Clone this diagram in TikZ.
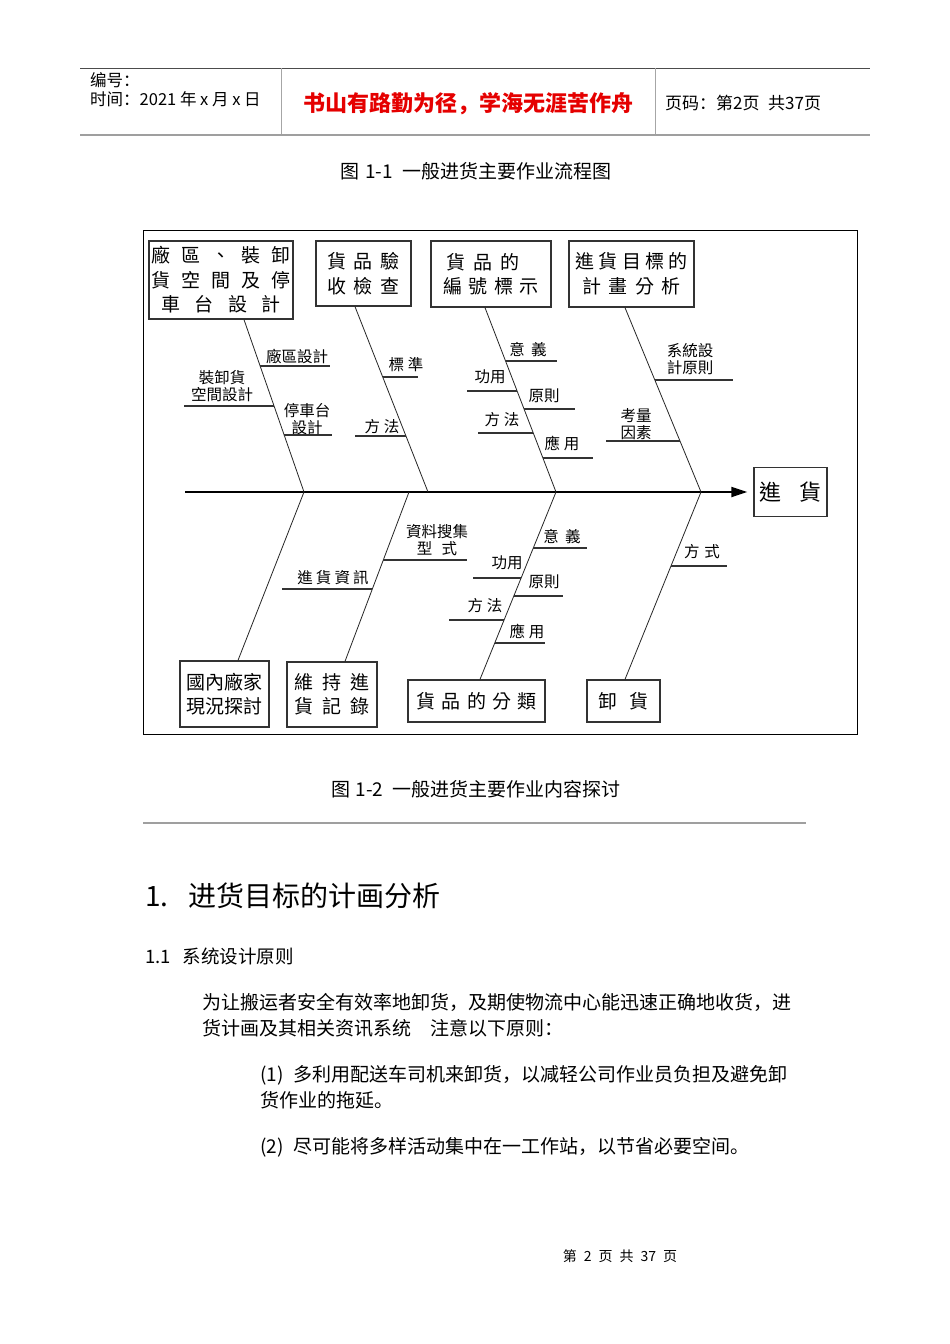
\documentclass[tikz,border=0pt]{standalone}
\usepackage{fontspec}
\setmainfont{Noto Sans CJK SC}
\newfontfamily\tcfont{Noto Sans CJK TC}
\usetikzlibrary{arrows.meta}
\newcommand\gp[1][.4em]{\hspace{#1}}
\newcommand\fs[2]{\fontsize{#1}{#2}\selectfont}

\begin{document}
\begin{tikzpicture}[
        x=1pt, y=-1pt,
        % 页眉文字
        headtext/.style={inner sep=0pt, anchor=west, font=\fs{16.5}{20}},
        % 图题
        caption/.style={inner sep=0pt, font=\fs{19}{22}},
        % 正文
        body/.style={inner sep=0pt, anchor=west, font=\fs{19}{24}},
        % 鱼骨框
        cause/.style={
            rectangle, draw=black!80, line width=1.3pt, inner sep=0pt,
            align=center, font=\tcfont\fs{19}{24.5}
        },
        % 小骨标签
        cue/.style={inner sep=0pt, align=center, font=\tcfont\fs{15.5}{17}},
        % 骨线
        bone/.style={line width=.8pt, draw=black!85},
        twig/.style={line width=1.3pt, draw=black!80},
        spine/.style={line width=2pt, -{Triangle[length=16pt,width=10pt]}, shorten >=6pt}
    ]
        \fill[white] (0,0) rectangle (950,1344);
        \useasboundingbox (0,0) rectangle (950,1344);

        % 页眉
        \draw[black!70, line width=.8pt] (80,68) -- (870,68);
        \draw[gray!75, line width=2.5pt] (80,135) -- (870,135);
        \draw[gray!70, line width=.8pt] (281,68) -- (281,134) (655,68) -- (655,134);
        \node[headtext] (hno) at (90,80) {编号：};
        \node[headtext] (hdate) at (90,99) {时间：2021 年 x 月 x 日};
        \node[inner sep=0pt, font=\bfseries\fs{22}{24}, text=red!90!black] (motto) at (468,104) {书山有路勤为径，学海无涯苦作舟};
        \node[headtext, font=\fs{17}{20}] (hpage) at (665,103) {页码：第2页\gp[.5em]共37页};

        \node[caption] (cap1) at (476,171) {图\gp[.3em]1-1\gp[.5em]一般进货主要作业流程图};

        % 图框
        \draw[black, line width=1pt] (143,230) rectangle (857,734);

        % 上方要因
        \node[cause, minimum width=144pt, minimum height=78pt] (plant) at (221,280)
            {廠\gp[.59em]區\gp[.59em]、\gp[.59em]裝\gp[.59em]卸\\貨\gp[.59em]空\gp[.59em]間\gp[.59em]及\gp[.59em]停\\車\gp[.77em]台\gp[.77em]設\gp[.77em]計};
        \node[cause, minimum width=95pt, minimum height=65pt] (check) at (363.5,273.5)
            {貨\gp 品\gp 驗\\收\gp 檢\gp 查};
        \node[cause, minimum width=120pt, minimum height=66pt] (label) at (491,274)
            {貨\gp 品\gp 的\kern16pt\\編\gp[.35em]號\gp[.35em]標\gp[.35em]示};
        \node[cause, minimum width=125pt, minimum height=66pt] (target) at (631.5,274)
            {進\gp[.22em]貨\gp[.22em]目\gp[.22em]標\gp[.22em]的\\計\gp[.37em]畫\gp[.37em]分\gp[.37em]析};

        % 结果
        \node[cause, minimum width=73pt, minimum height=49pt, font=\tcfont\fs{22}{24}] (goal) at (790.5,492)
            {進\gp[.82em]貨};

        % 下方要因
        \node[cause, minimum width=89pt, minimum height=66pt] (domestic) at (224.5,694)
            {國內廠家\\現況探討};
        \node[cause, minimum width=90pt, minimum height=65pt] (record) at (332,694.5)
            {維\gp[.45em]持\gp[.45em]進\\貨\gp[.45em]記\gp[.45em]錄};
        \node[cause, minimum width=137pt, minimum height=42pt] (sort) at (476.5,701)
            {貨\gp[.33em]品\gp[.33em]的\gp[.33em]分\gp[.33em]類};
        \node[cause, minimum width=73pt, minimum height=42pt] (unload) at (623.5,701)
            {卸\gp[.63em]貨};

        % 主骨
        \coordinate (tail) at (185,492);
        \draw[spine] (tail) -- (goal.west);

        % 大骨
        \coordinate (s1) at (304,492);
        \coordinate (s2) at (428,492);
        \coordinate (s2b) at (409,492);
        \coordinate (s3) at (556,492);
        \coordinate (s4) at (701,492);
        \coordinate (b1t) at (plant.south -| 244,0);
        \coordinate (b1b) at (domestic.north -| 238,0);
        \coordinate (b2t) at (check.south -| 355,0);
        \coordinate (b2b) at (record.north -| 345,0);
        \coordinate (b3t) at (label.south -| 485,0);
        \coordinate (b3b) at (sort.north -| 480,0);
        \coordinate (b4t) at (target.south -| 625,0);
        \coordinate (b4b) at (unload.north -| 625,0);
        \draw[bone] (b1t) -- (s1) -- (b1b);
        \draw[bone] (b2t) -- (s2);
        \draw[bone] (s2b) -- (b2b);
        \draw[bone] (b3t) -- (s3) -- (b3b);
        \draw[bone] (b4t) -- (s4) -- (b4b);

        % 小骨：廠區
        \coordinate (t1) at (intersection of b1t--s1 and 0,366--1,366);
        \draw[twig] (t1) -- (t1 -| 330,0);
        \node[cue] (c1) at (297,356) {廠區設計};
        \coordinate (t2) at (intersection of b1t--s1 and 0,406--1,406);
        \draw[twig] (t2) -- (t2 -| 184,0);
        \node[cue] (c2) at (222,386) {裝卸貨\\空間設計};
        \coordinate (t3) at (intersection of b1t--s1 and 0,435--1,435);
        \draw[twig] (t3) -- (t3 -| 332,0);
        \node[cue] (c3) at (307,419) {停車台\\設計};

        % 小骨：驗收
        \coordinate (t4) at (intersection of b2t--s2 and 0,377--1,377);
        \draw[twig] (t4) -- (t4 -| 418,0);
        \node[cue] (c4) at (406,365) {標\gp[.25em]準};
        \coordinate (t5) at (intersection of b2t--s2 and 0,436--1,436);
        \draw[twig] (t5) -- (t5 -| 355,0);
        \node[cue] (c5) at (382,427) {方\gp[.25em]法};

        % 小骨：編號
        \coordinate (t6) at (intersection of b3t--s3 and 0,361--1,361);
        \draw[twig] (t6) -- (t6 -| 557,0);
        \node[cue] (c6) at (528,350) {意\gp[.4em]義};
        \coordinate (t7) at (intersection of b3t--s3 and 0,391--1,391);
        \draw[twig] (t7) -- (t7 -| 467,0);
        \node[cue] (c7) at (490,377) {功用};
        \coordinate (t8) at (intersection of b3t--s3 and 0,409--1,409);
        \draw[twig] (t8) -- (t8 -| 575,0);
        \node[cue] (c8) at (544,396) {原則};
        \coordinate (t9) at (intersection of b3t--s3 and 0,433--1,433);
        \draw[twig] (t9) -- (t9 -| 478,0);
        \node[cue] (c9) at (502,420) {方\gp[.25em]法};
        \coordinate (t10) at (intersection of b3t--s3 and 0,458--1,458);
        \draw[twig] (t10) -- (t10 -| 593,0);
        \node[cue] (c10) at (562,443) {應\gp[.25em]用};

        % 小骨：目標
        \coordinate (t11) at (intersection of b4t--s4 and 0,380--1,380);
        \draw[twig] (t11) -- (t11 -| 733,0);
        \node[cue] (c11) at (690,359) {系統設\\計原則};
        \coordinate (t12) at (intersection of b4t--s4 and 0,441--1,441);
        \draw[twig] (t12) -- (t12 -| 606,0);
        \node[cue] (c12) at (636,424) {考量\\因素};

        % 小骨：記錄
        \coordinate (t13) at (intersection of s2b--b2b and 0,560--1,560);
        \draw[twig] (t13) -- (t13 -| 467,0);
        \node[cue] (c13) at (437,540) {資料搜集\\型\gp[.6em]式};
        \coordinate (t14) at (intersection of s2b--b2b and 0,589--1,589);
        \draw[twig] (t14) -- (t14 -| 282,0);
        \node[cue] (c14) at (333,578) {進\gp[.2em]貨\gp[.2em]資\gp[.2em]訊};

        % 小骨：分類
        \coordinate (t15) at (intersection of s3--b3b and 0,548--1,548);
        \draw[twig] (t15) -- (t15 -| 587,0);
        \node[cue] (c15) at (562,537) {意\gp[.4em]義};
        \coordinate (t16) at (intersection of s3--b3b and 0,578--1,578);
        \draw[twig] (t16) -- (t16 -| 473,0);
        \node[cue] (c16) at (507,563) {功用};
        \coordinate (t17) at (intersection of s3--b3b and 0,596--1,596);
        \draw[twig] (t17) -- (t17 -| 563,0);
        \node[cue] (c17) at (544,582) {原則};
        \coordinate (t18) at (intersection of s3--b3b and 0,620--1,620);
        \draw[twig] (t18) -- (t18 -| 449,0);
        \node[cue] (c18) at (485,606) {方\gp[.25em]法};
        \coordinate (t19) at (intersection of s3--b3b and 0,643--1,643);
        \draw[twig] (t19) -- (t19 -| 545,0);
        \node[cue] (c19) at (527,631) {應\gp[.25em]用};

        % 小骨：卸貨
        \coordinate (t20) at (intersection of s4--b4b and 0,566--1,566);
        \draw[twig] (t20) -- (t20 -| 727,0);
        \node[cue] (c20) at (702,552) {方\gp[.3em]式};

        \node[caption] (cap2) at (476,789) {图\gp[.3em]1-2\gp[.5em]一般进货主要作业内容探讨};
        \draw[gray!75, line width=2.5pt] (143,823) -- (806,823);

        % 正文
        \node[body, font=\fs{28}{30}] (sec) at (145,896) {1.\gp[20pt]进货目标的计画分析};
        \node[body, font=\fs{18.5}{22}] (subsec) at (145,956) {1.1\gp[12pt]系统设计原则};
        \node[body] (par1) at (202,1002) {为让搬运者安全有效率地卸货，及期使物流中心能迅速正确地收货，进};
        \node[body] (par2) at (202,1028) {货计画及其相关资讯系统　注意以下原则：};
        \node[body] (item1) at (260,1075) {(1)\gp[.5em]多利用配送车司机来卸货，以减轻公司作业员负担及避免卸};
        \node[body] (item1b) at (260,1100) {货作业的拖延。};
        \node[body] (item2) at (260,1147) {(2)\gp[.5em]尽可能将多样活动集中在一工作站，以节省必要空间。};

        \node[inner sep=0pt, font=\fs{14}{16}] (foot) at (620,1256) {第\gp[.5em]2\gp[.5em]页\gp[.5em]共\gp[.5em]37\gp[.5em]页};
    \end{tikzpicture}
\end{document}
